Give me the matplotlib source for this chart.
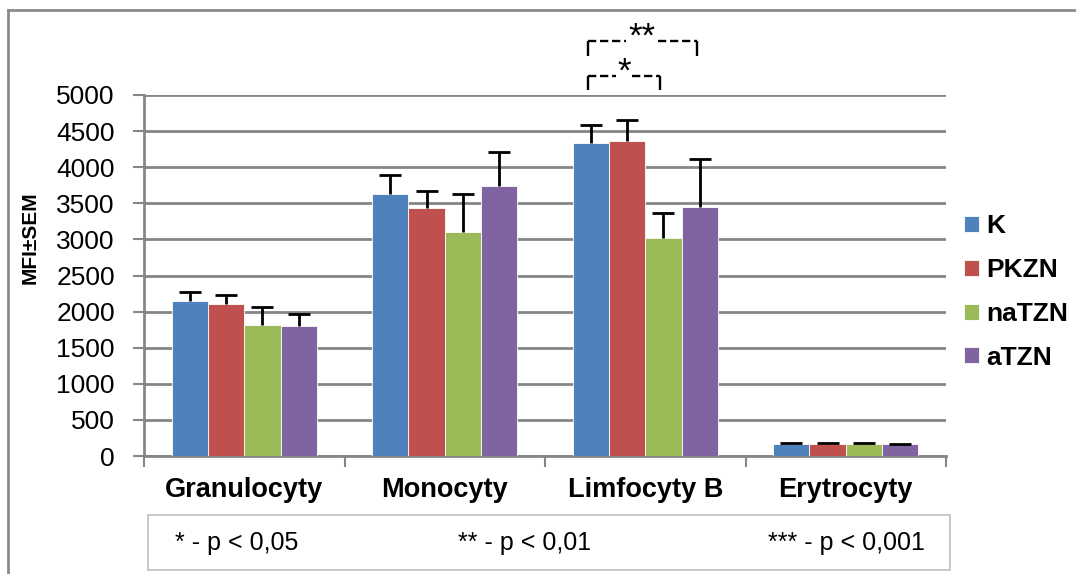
import matplotlib
matplotlib.use('Agg')
import matplotlib.pyplot as plt
from matplotlib.lines import Line2D
from matplotlib.patches import Rectangle
import numpy as np

plt.rcParams['font.family'] = ['Liberation Sans', 'DejaVu Sans']

categories = ['Granulocyty', 'Monocyty', 'Limfocyty B', 'Erytrocyty']
series = ['K', 'PKZN', 'naTZN', 'aTZN']
colors = ['#4F81BD', '#C0504D', '#9BBB59', '#8064A2']
values = [
    [2150, 3625, 4340, 168],   # K
    [2105, 3430, 4358, 168],   # PKZN
    [1812, 3098, 3015, 166],   # naTZN
    [1798, 3738, 3453, 160],   # aTZN
]
errors = [
    [120, 272, 240, 10],
    [128, 244, 295, 10],
    [255, 528, 355, 10],
    [167, 472, 655, 10],
]
y_ticks = [0, 500, 1000, 1500, 2000, 2500, 3000, 3500, 4000, 4500, 5000]
footnotes = ['* - p < 0,05', '** - p < 0,01', '*** - p < 0,001']

grid_col = '#868686'

fig = plt.figure(figsize=(10.76, 5.74), dpi=100)
ax = fig.add_axes([144 / 1076, 1 - 456 / 574, 802 / 1076, 361 / 574])

x = np.arange(len(categories))
w = 0.181
cap = 0.055
for i, s in enumerate(series):
    pos = x + (i - 1.5) * w
    top = np.array(values[i]) + np.array(errors[i])
    ax.bar(pos, values[i], w, color=colors[i], edgecolor='white', linewidth=0.6,
           label=s, zorder=3)
    # only upper error bars, as in the original
    ax.vlines(pos, values[i], top, color='black', linewidth=2, zorder=4)
    ax.hlines(top, pos - cap, pos + cap, color='black', linewidth=2, zorder=4)

ax.set_xlim(-0.5, len(categories) - 0.5)
ax.set_ylim(0, 5000)
ax.set_yticks(y_ticks)
ax.tick_params(axis='y', labelsize=19, length=8, width=1.5, color=grid_col, pad=13)
ax.set_xticks(x)
ax.set_xticklabels(categories, fontsize=19.5, fontweight='bold')
ax.tick_params(axis='x', length=0, pad=15)
ax.set_xticks(np.arange(-0.5, len(categories)), minor=True)
ax.tick_params(axis='x', which='minor', length=8, width=1.5, color=grid_col)
ax.grid(axis='y', color=grid_col, linewidth=2, zorder=0)
ax.set_axisbelow(True)
for sp in ['top', 'right']:
    ax.spines[sp].set_visible(False)
for sp in ['left', 'bottom']:
    ax.spines[sp].set_color(grid_col)
    ax.spines[sp].set_linewidth(2)

fig.text(30 / 1076, 1 - 238 / 574, 'MFI±SEM', rotation=90, fontsize=15,
         fontweight='bold', ha='center', va='center')

leg = ax.legend(loc='center left', bbox_to_anchor=(964 / 1076, 1 - 292 / 574),
                bbox_transform=fig.transFigure, frameon=False, borderpad=0,
                borderaxespad=0, prop={'size': 19, 'weight': 'bold'},
                handlelength=0.55, handleheight=0.55, handletextpad=0.3,
                labelspacing=0.75)

# significance brackets (Limfocyty B)
sig_k = x[2] - 1.5 * w
sig_na = x[2] + 0.5 * w
sig_a = x[2] + 1.5 * w
for x0, x1, yb, drop, gap, star, ys in [(sig_k, sig_a, 5752, 212, 0.08, '**', 5800),
                                        (sig_k, sig_na, 5263, 194, 0.038, '*', 5320)]:
    l0 = x0 - 0.015
    l1 = x1 - 0.015
    xm = (l0 + l1) / 2
    ax.plot([l0, l0], [yb - drop, yb], color='black', lw=1.7, clip_on=False,
            solid_capstyle='butt')
    ax.plot([l1, l1], [yb - drop, yb], color='black', lw=1.7, clip_on=False,
            solid_capstyle='butt')
    ax.plot([l0, xm - gap], [yb, yb], color='black', lw=1.7,
            linestyle=(0, (3.5, 1.6)), clip_on=False)
    ax.plot([xm + gap, l1], [yb, yb], color='black', lw=1.7,
            linestyle=(0, (3.5, 1.6)), clip_on=False)
    ax.text(xm, ys, star, fontsize=25, ha='center', va='center')

# footnote box
fig.add_artist(Rectangle((148 / 1076, 1 - 570 / 574), 802 / 1076, 55 / 574,
                         transform=fig.transFigure, fill=False,
                         edgecolor='#BFBFBF', linewidth=1.2))
fx = [175 / 1076, 525 / 1076, 925 / 1076]
fha = ['left', 'center', 'right']
for t, xx, ha in zip(footnotes, fx, fha):
    fig.text(xx, 1 - 543 / 574, t, fontsize=18, ha=ha, va='center')

# outer chart frame
fig.add_artist(Line2D([8 / 1076, 8 / 1076], [0, 1 - 10 / 574], transform=fig.transFigure,
                      color='#8A8A8A', linewidth=2))
fig.add_artist(Line2D([8 / 1076, 1], [1 - 10 / 574, 1 - 10 / 574], transform=fig.transFigure,
                      color='#8A8A8A', linewidth=2))

fig.savefig('out.png', dpi=100)
